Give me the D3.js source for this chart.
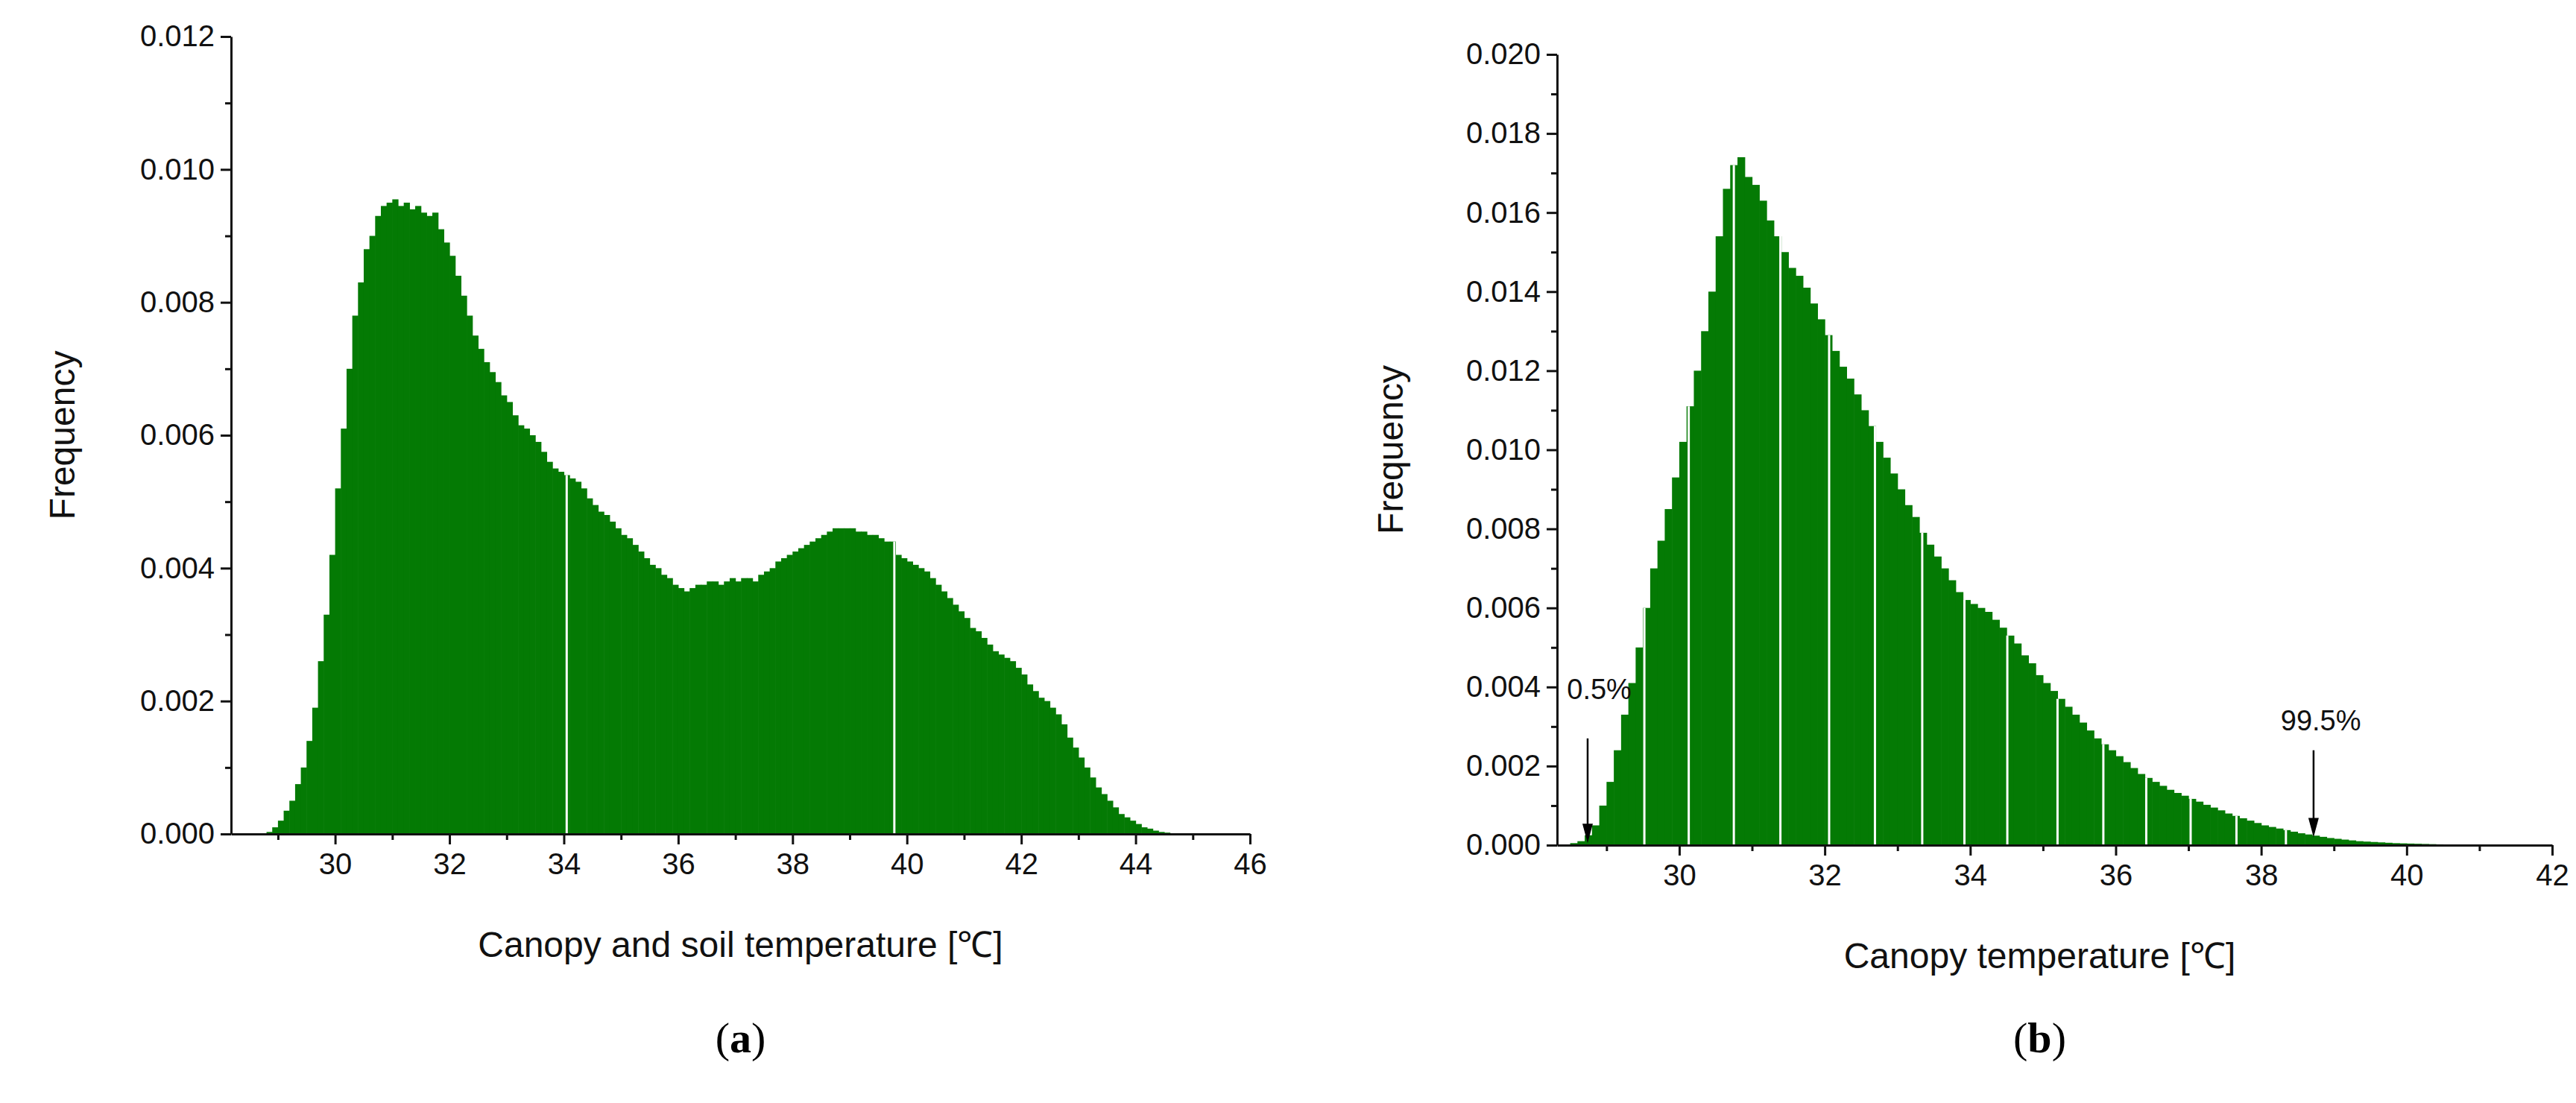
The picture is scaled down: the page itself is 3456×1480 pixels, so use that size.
<!DOCTYPE html>
<html><head><meta charset="utf-8">
<script src="https://cdn.jsdelivr.net/npm/d3@7"></script>
<style>body{margin:0;background:#fff}svg{display:block}</style>
</head><body>
<script>
// Panel (a): bins of width 0.1 starting at 28.8, values x0.001
const startA = 28.8, binW = 0.1;
const freqA = [.03,.1,.2,.35,.5,.75,1.0,1.4,1.9,2.6,3.3,4.2,5.2,6.1,7.0,7.8,8.3,8.8,9.0,9.3,9.45,9.5,9.55,9.45,9.5,9.4,9.45,9.35,9.3,9.35,9.1,8.9,8.7,8.4,8.1,7.8,7.5,7.3,7.1,6.95,6.8,6.6,6.5,6.3,6.15,6.1,6.0,5.9,5.75,5.6,5.5,5.45,5.4,5.35,5.3,5.2,5.05,4.95,4.85,4.8,4.7,4.6,4.5,4.45,4.35,4.25,4.15,4.05,4.0,3.9,3.85,3.75,3.7,3.65,3.7,3.75,3.75,3.8,3.8,3.75,3.8,3.85,3.8,3.85,3.85,3.8,3.9,3.95,4.0,4.1,4.15,4.2,4.25,4.3,4.35,4.4,4.45,4.5,4.55,4.6,4.6,4.6,4.6,4.55,4.55,4.5,4.5,4.45,4.4,4.4,4.2,4.15,4.1,4.05,4.0,3.95,3.85,3.75,3.65,3.55,3.45,3.35,3.25,3.1,3.05,2.95,2.85,2.75,2.7,2.65,2.6,2.5,2.4,2.25,2.15,2.05,2.0,1.9,1.8,1.65,1.45,1.3,1.15,1.0,0.85,0.7,0.6,0.5,0.4,0.3,0.25,0.2,0.15,0.1,0.08,0.05,0.03,0.02,0.01,0.005];
const gapsA = [34.05, 39.78];
// Panel (b)
const startB = 28.5;
const freqB = [.05,.1,.25,.5,1.0,1.6,2.4,3.3,4.1,5.0,6.0,7.0,7.7,8.5,9.3,10.2,11.1,12.0,13.0,14.0,15.4,16.6,17.2,17.4,16.9,16.7,16.3,15.8,15.4,15.0,14.6,14.4,14.1,13.7,13.3,12.9,12.5,12.1,11.8,11.4,11.0,10.6,10.2,9.8,9.4,9.0,8.6,8.3,7.9,7.6,7.3,7.0,6.7,6.4,6.2,6.1,6.0,5.9,5.7,5.5,5.3,5.1,4.8,4.6,4.3,4.1,3.9,3.7,3.5,3.3,3.1,2.9,2.7,2.55,2.4,2.25,2.1,1.95,1.8,1.7,1.6,1.5,1.4,1.32,1.25,1.17,1.1,1.02,0.95,0.88,0.8,0.74,0.68,0.62,0.56,0.5,0.46,0.42,0.38,0.34,0.3,0.27,0.24,0.21,0.18,0.16,0.14,0.12,0.1,0.09,0.08,0.07,0.06,0.05,0.045,0.04,0.035,0.03,0.025,0.02,0.015,0.01,0.008,0.005];
const gapsB = [29.52,30.13,30.75,31.39,32.06,32.69,33.34,33.92,34.51,35.2,35.83,36.42,37.03,37.66,38.34];
const ticksAx = [30,32,34,36,38,40,42,44,46];
const ticksAy = [0,0.002,0.004,0.006,0.008,0.010,0.012];
const ticksBx = [30,32,34,36,38,40,42];
const ticksBy = [0,0.002,0.004,0.006,0.008,0.010,0.012,0.014,0.016,0.018,0.020];
const annB = [{label:"0.5%", x:28.74, tx:28.9, ty:0.0037, y0:0.0027, y1:0.00005},
              {label:"99.5%", x:38.72, tx:38.82, ty:0.0029, y0:0.0024, y1:0.0002}];

const W=3456,H=1480, green="#047a04";
const svg=d3.select("body").append("svg").attr("width",W).attr("height",H);
svg.append("defs").append("marker").attr("id","ah").attr("viewBox","0 0 10 10").attr("refX",5).attr("refY",10)
 .attr("markerWidth",6).attr("markerHeight",8).attr("orient","auto-start-reverse").attr("markerUnits","userSpaceOnUse")
 .append("path").attr("d","M0,0L5,10L10,0L5,4Z").attr("fill","#000");
svg.select("marker").attr("markerWidth",14).attr("markerHeight",24).attr("orient",0);

function panel(o){
  const x=d3.scaleLinear().domain(o.xd).range([o.l,o.r]);
  const y=d3.scaleLinear().domain(o.yd).range([o.b,o.t]);
  const g=svg.append("g");
  const data=o.freq.map((v,i)=>({x0:o.start+i*binW,v:v/1000}));
  g.selectAll("rect").data(data).enter().append("rect")
   .attr("x",d=>x(d.x0)).attr("width",d=>x(d.x0+binW)-x(d.x0)+0.6)
   .attr("y",d=>y(d.v)).attr("height",d=>o.b-y(d.v)).attr("fill",green);
  o.gaps.forEach(gx=>{
    const i=Math.floor((gx-o.start)/binW); const v=o.freq[i]/1000;
    g.append("line").attr("x1",x(gx)).attr("x2",x(gx)).attr("y1",o.b).attr("y2",y(v)).attr("stroke","#fff").attr("stroke-width",3);
  });
  const fs="Liberation Sans, Arial, sans-serif";
  // axes
  const xa=g.append("g").attr("transform",`translate(0,${o.b})`)
    .call(d3.axisBottom(x).tickValues(o.xt).tickSize(14).tickSizeOuter(0).tickFormat(d3.format("d")).tickPadding(12));
  const xm=g.append("g").attr("transform",`translate(0,${o.b})`)
    .call(d3.axisBottom(x).tickValues(d3.range(Math.ceil(o.xd[0]),o.xd[1],1).filter(v=>!o.xt.includes(v))).tickSize(8).tickSizeOuter(0).tickFormat(""));
  const ya=g.append("g").attr("transform",`translate(${o.l},0)`)
    .call(d3.axisLeft(y).tickValues(o.yt).tickSize(14).tickSizeOuter(0).tickFormat(d3.format(".3f")).tickPadding(8));
  const yminor=d3.range(0.001,o.yd[1],0.002);
  const ym=g.append("g").attr("transform",`translate(${o.l},0)`)
    .call(d3.axisLeft(y).tickValues(yminor).tickSize(8).tickSizeOuter(0).tickFormat(""));
  [xa,xm,ya,ym].forEach(a=>{a.selectAll("path,line").attr("stroke","#111").attr("stroke-width",3);
    a.selectAll("text").attr("font-family",fs).attr("font-size",40).attr("fill","#111");});
  xm.select("path").remove(); ym.select("path").remove();
  g.append("text").attr("transform",`translate(${o.ylx},${(o.t+o.b)/2}) rotate(-90)`).attr("text-anchor","middle")
   .attr("font-family",fs).attr("font-size",48).attr("fill","#111").text("Frequency");
  g.append("text").attr("x",(o.l+o.r)/2+o.xlOff).attr("y",o.b+165).attr("text-anchor","middle")
   .attr("font-family",fs).attr("font-size",48).attr("fill","#111").text(o.xlabel);
  const p=g.append("text").attr("x",(o.l+o.r)/2+o.xlOff).attr("y",1412).attr("text-anchor","middle")
   .attr("font-family","Liberation Serif, Times New Roman, serif").attr("font-size",58).attr("fill","#000");
  p.append("tspan").text("(");p.append("tspan").attr("font-weight","bold").text(o.tag);p.append("tspan").text(")");
  (o.ann||[]).forEach(a=>{
    g.append("text").attr("x",x(a.tx)).attr("y",y(a.ty)).attr("text-anchor","middle")
     .attr("font-family","Liberation Sans Narrow, Liberation Sans, sans-serif").attr("font-size",38).attr("fill","#111").text(a.label);
    g.append("line").attr("x1",x(a.x)).attr("x2",x(a.x)).attr("y1",y(a.y0)).attr("y2",y(a.y1)-22)
     .attr("stroke","#000").attr("stroke-width",2.5);
    g.append("path").attr("d",`M${x(a.x)-7},${y(a.y1)-26}L${x(a.x)},${y(a.y1)}L${x(a.x)+7},${y(a.y1)-26}Z`).attr("fill","#000");
  });
}
panel({l:310,r:1677,t:49,b:1119,xd:[28.18,46],yd:[0,0.012],start:startA,freq:freqA,gaps:gapsA,xt:ticksAx,yt:ticksAy,
  ylx:100,xlabel:"Canopy and soil temperature [\u2103]",xlOff:0,tag:"a"});
panel({l:2089,r:3424,t:73,b:1134,xd:[28.32,42],yd:[0,0.020],start:startB,freq:freqB,gaps:gapsB,xt:ticksBx,yt:ticksBy,
  ylx:1882,xlabel:"Canopy temperature [\u2103]",xlOff:-20,tag:"b",ann:annB});
</script>
</body></html>
